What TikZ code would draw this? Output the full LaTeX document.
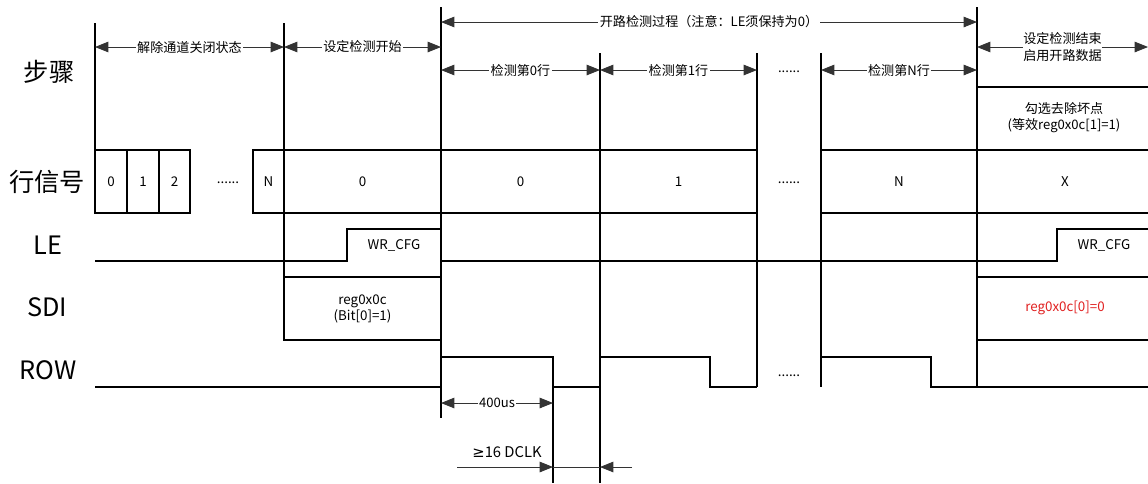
\documentclass[tikz,border=0pt]{standalone}
\usepackage{fontspec}
\setmainfont{Noto Sans CJK SC}
\newfontfamily\symfont{DejaVu Sans}
\usetikzlibrary{arrows.meta}
\usetikzlibrary{positioning}

\begin{document}
\begin{tikzpicture}[x=0.025cm, y=-0.025cm,
    sig/.style={line width=1.3pt},
    dim/.style={draw=black!80, line width=0.6pt},
    span/.style={dim, {Triangle[length=9.5pt,width=7.5pt]}-{Triangle[length=9.5pt,width=7.5pt]}},
    oneway/.style={dim, -{Triangle[length=9.5pt,width=7.5pt]}},
    lbl/.style={fill=white, inner sep=1pt, font=\fontsize{9.3}{11.5}\selectfont},
    val/.style={font=\fontsize{9.5}{11}\selectfont},
    signame/.style={font=\fontsize{18}{20}\selectfont}]

    \useasboundingbox (0,0) rectangle (1148,483);

    % time marks and levels
    \coordinate (t0) at (95,0);
    \coordinate (t1) at (284,0);
    \coordinate (t2) at (441,0);
    \coordinate (t3) at (600,0);
    \coordinate (t4) at (757,0);
    \coordinate (t5) at (821,0);
    \coordinate (t6) at (977,0);
    \coordinate (tr) at (1148,0);
    \coordinate (ytop) at (0,22);
    \coordinate (ystep) at (0,47);
    \coordinate (yscan) at (0,70);

    % signal names
    \node[signame] (nstep) at (49,72) {步骤};
    \node[signame] (nrow) at (47,182) {行信号};
    \node[signame] (nle) at (48,245) {LE};
    \node[signame] (nsdi) at (47,307) {SDI};
    \node[signame] (nrowsig) at (48,370) {ROW};

    % phase borders
    \draw[sig] (95,23) -- (95,213);
    \draw[sig] (284,23) -- (284,340);
    \draw[sig] (441,7) -- (441,418);
    \draw[sig] (600,53) -- (600,483);
    \draw[sig] (757,53) -- (757,387);
    \draw[sig] (821,53) -- (821,387);
    \draw[sig] (977,7) -- (977,387);
    \draw[sig] (553,357) -- (553,483);

    % phase spans
    \draw[span] (t2 |- ytop) -- node[lbl] (popen) {开路检测过程（注意：LE须保持为0）} (t6 |- ytop);
    \draw[span] (t0 |- ystep) -- node[lbl] (prelease) {解除通道关闭状态} (t1 |- ystep);
    \draw[span] (t1 |- ystep) -- node[lbl] (pset) {设定检测开始} (t2 |- ystep);
    \draw[span] (t6 |- ystep) -- node[lbl, align=center, inner sep=0pt] (pend) {设定检测结束\\启用开路数据} (tr |- ystep);
    \draw[span] (t2 |- yscan) -- node[lbl] (pscan0) {检测第0行} (t3 |- yscan);
    \draw[span] (t3 |- yscan) -- node[lbl] (pscan1) {检测第1行} (t4 |- yscan);
    \draw[span] (t5 |- yscan) -- node[lbl] (pscann) {检测第N行} (t6 |- yscan);
    \node[lbl] (pdots) at (789,72) {......};

    % bad point option
    \draw[sig] (977,87) -- (1148,87);
    \node[lbl, align=center] (badpt) at (1064,118) {勾选去除坏点\\(等效reg0x0c[1]=1)};

    % row signal
    \draw[sig] (95,150) rectangle (190,213);
    \draw[sig] (127,150) -- (127,213) (159,150) -- (159,213);
    \draw[sig] (253,150) rectangle (284,213);
    \draw[sig] (284,150) -- (757,150) (284,213) -- (757,213);
    \draw[sig] (821,150) -- (1148,150) (821,213) -- (1148,213);
    \node[val] (r0) at (111,182) {0};
    \node[val] (r1) at (143,182) {1};
    \node[val] (r2) at (174.5,182) {2};
    \node[val] (rdots) at (228,183) {......};
    \node[val] (rn) at (268.5,182) {N};
    \node[val] (rset) at (362.5,182) {0};
    \node[val] (rscan0) at (520.5,182) {0};
    \node[val] (rscan1) at (678.5,182) {1};
    \node[val] (rscandots) at (789,183) {......};
    \node[val] (rscann) at (899,182) {N};
    \node[val] (rend) at (1065,182) {X};

    % LE
    \draw[sig] (95,261) -- (347,261) -- (347,229) -- (441,229);
    \draw[sig] (441,261) -- (1057,261) -- (1057,229) -- (1148,229);
    \node[val] (le1) at (394,245) {WR\_CFG};
    \node[val] (le2) at (1104,245) {WR\_CFG};

    % SDI
    \draw[sig] (284,277) rectangle (441,340);
    \draw[sig] (977,277) -- (1148,277) (977,340) -- (1148,340);
    \node[val, align=center] (sdi1) at (362.5,309) {reg0x0c\\(Bit[0]=1)};
    \node[val, text={rgb,255:red,224;green,32;blue,32}] (sdi2) at (1065,308) {reg0x0c[0]=0};

    % ROW
    \draw[sig] (95,387) -- (441,387) -- (441,357) -- (553,357) -- (553,387) -- (600,387)
        -- (600,357) -- (710,357) -- (710,387) -- (757,387);
    \draw[sig] (821,357) -- (931,357) -- (931,387) -- (1148,387);
    \node[val] (rowdots) at (789,376) {......};

    % timing
    \coordinate (y400) at (0,403);
    \coordinate (ydclk) at (0,467);
    \draw[span] (t2 |- y400) -- node[lbl] (w400) {400us} (553,403);
    \draw[oneway] (457,467) -- (553,467);
    \draw[dim] (553,467) -- (600,467);
    \draw[oneway] (632,467) -- (t3 |- ydclk);
    \node[val, font=\fontsize{10.5}{12}\selectfont] (wdclk) at (507,452) {{\symfont ≥}16 DCLK};

\end{tikzpicture}
\end{document}
